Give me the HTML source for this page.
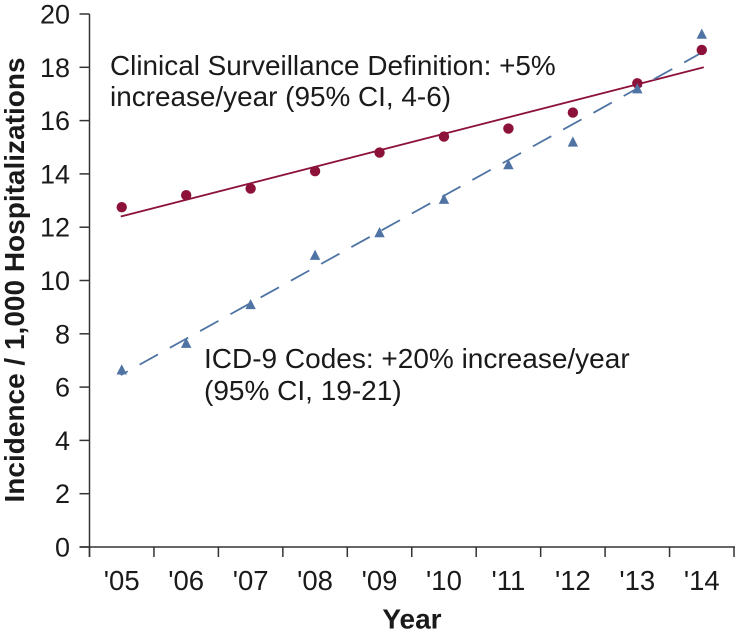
<!DOCTYPE html>
<html>
<head>
<meta charset="utf-8">
<style>
html,body{margin:0;padding:0;background:#fff;width:735px;height:635px;overflow:hidden}
svg{display:block}
text{font-family:"Liberation Sans",Arial,sans-serif;fill:#1a1a1a}
</style>
</head>
<body>
<svg id="chart" width="735" height="635" viewBox="0 0 735 635" xmlns="http://www.w3.org/2000/svg"></svg>
<script>
const categories = ["'05","'06","'07","'08","'09","'10","'11","'12","'13","'14"];
const yTicks = [0,2,4,6,8,10,12,14,16,18,20];
const clinicalValues = [12.75,13.2,13.45,14.1,14.8,15.4,15.7,16.3,17.4,18.65];
const icdValues = [6.65,7.65,9.1,10.95,11.8,13.05,14.35,15.2,17.2,19.25];
const clinicalFit = [12.4,18.0];
const icdFit = [6.45,18.55];

const NS = 'http://www.w3.org/2000/svg';
const svg = document.getElementById('chart');
const left = 89.5, bandW = 64.45, y0 = 547, yTop = 14, yMax = 20;
const xBand = i => left + bandW * i;
const xCenter = i => left + bandW * (i + 0.5);
const yPos = v => y0 - (y0 - yTop) * v / yMax;

function add(tag, attrs, parent) {
  const el = document.createElementNS(NS, tag);
  for (const k in attrs) el.setAttribute(k, attrs[k]);
  (parent || svg).appendChild(el);
  return el;
}

const axisColor = '#333333';

// y axis
const yAxis = add('line', {x1:left, y1:yTop, x2:left, y2:y0+10, stroke:axisColor, 'stroke-width':1.5});



yTicks.forEach(v => {
  const t = add('line', {x1:left-10, y1:yPos(v), x2:left, y2:yPos(v), stroke:axisColor, 'stroke-width':1.5});
  
  
  const l = add('text', {x:70, y:yPos(v)+9.5, 'text-anchor':'end', 'font-size':27});
  l.textContent = v;
  
  
});

// x axis
const xAxis = add('line', {x1:left-10, y1:y0, x2:735, y2:y0, stroke:axisColor, 'stroke-width':1.5});



for (let i = 0; i <= categories.length; i++) {
  const t = add('line', {x1:xBand(i), y1:y0, x2:xBand(i), y2:y0+10, stroke:axisColor, 'stroke-width':1.5});
  
  
}
categories.forEach((c, i) => {
  const l = add('text', {x:xCenter(i), y:590, 'text-anchor':'middle', 'font-size':27.5});
  l.textContent = c;
  
  
});

// fit lines
const last = categories.length - 1;
const fitA = add('line', {x1:xCenter(0)-1, y1:yPos(clinicalFit[0]), x2:xCenter(last)+2, y2:yPos(clinicalFit[1]), stroke:'#8c1239', 'stroke-width':1.8});


const fitB = add('line', {x1:xCenter(0)-1, y1:yPos(icdFit[0]), x2:xCenter(last), y2:yPos(icdFit[1]), stroke:'#4f74a4', 'stroke-width':1.8, 'stroke-dasharray':'21 13.6', 'stroke-dashoffset':13});



// clinical points
clinicalValues.forEach((v, i) => {
  const c = add('circle', {cx:xCenter(i), cy:yPos(v), r:5.2, fill:'#8c1239'});
  
  
});

// icd points
icdValues.forEach((v, i) => {
  const x = xCenter(i), y = yPos(v);
  const p = add('polygon', {points:`${x},${y-5.5} ${x+5.2},${y+4.7} ${x-5.2},${y+4.7}`, fill:'#4f74a4'});
  
  
});
</script>
<svg width="735" height="635" viewBox="0 0 735 635" xmlns="http://www.w3.org/2000/svg" style="position:absolute;left:0;top:0">
  <text x="110" y="75" font-size="27.9">Clinical Surveillance Definition: +5%</text>
  <text x="110" y="106" font-size="27.9">increase/year (95% CI, 4-6)</text>
  <text x="204" y="368" font-size="28">ICD-9 Codes: +20% increase/year</text>
  <text x="204" y="400" font-size="28">(95% CI, 19-21)</text>
  <text x="412" y="628.5" text-anchor="middle" font-size="28" font-weight="bold">Year</text>
  <text transform="translate(24,280) rotate(-90)" text-anchor="middle" font-size="28" font-weight="bold">Incidence / 1,000 Hospitalizations</text>
</svg>
</body>
</html>
